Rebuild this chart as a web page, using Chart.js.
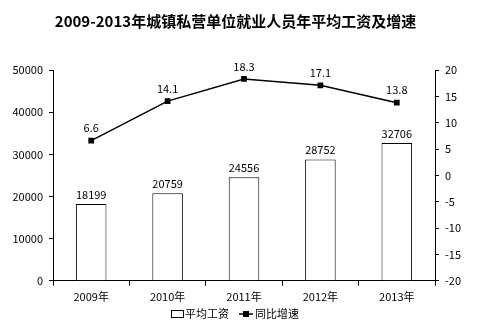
<!DOCTYPE html>
<html>
<head>
<meta charset="utf-8">
<script src="https://cdn.jsdelivr.net/npm/chart.js@4/dist/chart.umd.min.js"></script>
<style>
  html, body { margin: 0; padding: 0; background: #fff; }
  #wrap { width: 480px; height: 326px; }
</style>
</head>
<body>
<div id="wrap"><canvas id="myChart" width="480" height="326"></canvas></div>
<script>
var years = ['2009年', '2010年', '2011年', '2012年', '2013年'];
var wages = [18199, 20759, 24556, 28752, 32706];
var growth = [6.6, 14.1, 18.3, 17.1, 13.8];
var wageTicks = [0, 10000, 20000, 30000, 40000, 50000];
var growthTicks = [-20, -15, -10, -5, 0, 5, 10, 15, 20];

var FONT = '"Noto Sans CJK SC", "Noto Sans", sans-serif';

// value labels above bars and points
var valueLabels = {
  id: 'valueLabels',
  afterDatasetsDraw: function(chart) {
    var ctx = chart.ctx;
    ctx.save();
    ctx.font = '11px ' + FONT;
    ctx.fillStyle = '#000';
    ctx.textAlign = 'center';
    ctx.textBaseline = 'bottom';
    chart.data.datasets.forEach(function(ds, i) {
      var meta = chart.getDatasetMeta(i);
      meta.data.forEach(function(el, j) {
        var off = ds.type === 'line' ? 7 : 4;
        ctx.fillText(String(ds.data[j]), el.x, el.y - off);
      });
    });
    ctx.restore();
  }
};

// legend drawn under the axis
var bottomLegend = {
  id: 'bottomLegend',
  afterDraw: function(chart) {
    var ctx = chart.ctx;
    var y = 314;
    var sets = chart.data.datasets;
    ctx.save();
    ctx.font = '11px ' + FONT;
    ctx.textBaseline = 'middle';
    ctx.fillStyle = '#000';
    var x = 171;
    // bar swatch
    ctx.strokeStyle = '#000';
    ctx.lineWidth = 1;
    ctx.strokeRect(x + 0.5, y - 3.5, 12, 7);
    ctx.fillText(sets[0].label, x + 14, y);
    x = x + 14 + ctx.measureText(sets[0].label).width + 10;
    // line swatch
    ctx.lineWidth = 1.5;
    ctx.beginPath();
    ctx.moveTo(x, y);
    ctx.lineTo(x + 14, y);
    ctx.stroke();
    ctx.fillRect(x + 4, y - 3, 6, 6);
    ctx.fillText(sets[1].label, x + 16, y);
    ctx.restore();
  }
};

function plainTick(v) { return String(v); }

var ctx = document.getElementById('myChart').getContext('2d');
var wageChart = new Chart(ctx, {
  data: {
    labels: years,
    datasets: [{
      type: 'bar',
      label: '平均工资',
      data: wages,
      yAxisID: 'y',
      backgroundColor: '#fff',
      borderColor: '#000',
      borderWidth: 1,
      barPercentage: 0.4,
      categoryPercentage: 1,
      order: 2
    }, {
      type: 'line',
      label: '同比增速',
      data: growth,
      yAxisID: 'y1',
      borderColor: '#000',
      borderWidth: 1.5,
      pointStyle: 'rect',
      pointRadius: 3,
      pointBackgroundColor: '#000',
      pointBorderColor: '#000',
      tension: 0,
      order: 1
    }]
  },
  options: {
    responsive: false,
    animation: false,
    layout: { padding: { left: 0, right: 9, top: 0, bottom: 19 } },
    plugins: {
      legend: { display: false },
      tooltip: { enabled: false },
      title: {
        display: true,
        text: '2009-2013年城镇私营单位就业人员年平均工资及增速',
        color: '#000',
        font: { family: FONT, size: 15, weight: 'bold' },
        padding: { top: 12, bottom: 40 }
      }
    },
    scales: {
      x: {
        offset: true,
        grid: { display: true, drawOnChartArea: false, offset: true, color: '#000', tickLength: 5 },
        border: { color: '#000', width: 1 },
        ticks: { color: '#000', font: { family: FONT, size: 11 }, padding: 4, maxRotation: 0 }
      },
      y: {
        position: 'left',
        min: 0,
        max: 50000,
        afterBuildTicks: function(axis) {
          axis.ticks = wageTicks.map(function(v) { return { value: v }; });
        },
        afterFit: function(axis) { axis.width = 53; },
        grid: { display: true, drawOnChartArea: false, color: '#000', tickLength: 4 },
        border: { color: '#000', width: 1 },
        ticks: { color: '#000', font: { family: FONT, size: 11 }, padding: 6, callback: plainTick }
      },
      y1: {
        position: 'right',
        min: -20,
        max: 20,
        afterBuildTicks: function(axis) {
          axis.ticks = growthTicks.map(function(v) { return { value: v }; });
        },
        afterFit: function(axis) { axis.width = 36; },
        grid: { display: true, drawOnChartArea: false, color: '#000', tickLength: 4 },
        border: { color: '#000', width: 1 },
        ticks: { color: '#000', font: { family: FONT, size: 11 }, padding: 6, callback: plainTick }
      }
    }
  },
  plugins: [valueLabels, bottomLegend]
});
</script>
</body>
</html>
